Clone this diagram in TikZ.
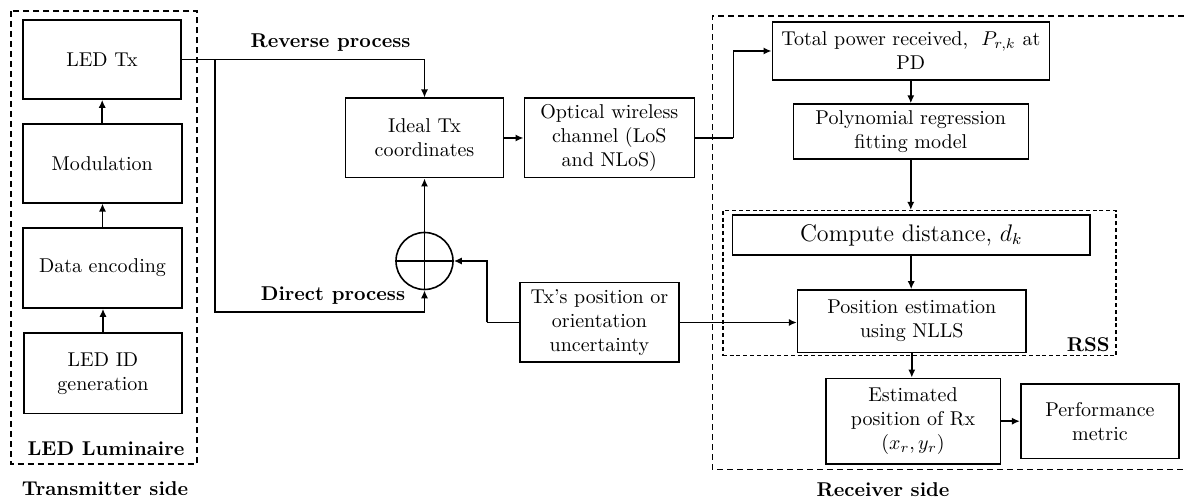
\documentclass[tikz,border=0pt]{standalone}
\usetikzlibrary{arrows.meta,calc}
\begin{document}
\begin{tikzpicture}[x=0.5pt,y=-0.5pt,
  blk/.style={draw, line width=0.8pt, align=center, inner sep=1pt, font=\fontsize{10}{12}\selectfont},
  arr/.style={line width=0.8pt, -{Latex[length=4pt,width=3.6pt]}},
  ln/.style={line width=0.8pt},
  dshbig/.style={line width=0.8pt, dash pattern=on 3pt off 2pt},
  dshsmall/.style={line width=0.8pt, dash pattern=on 2pt off 1.4pt},
  lbl/.style={font=\bfseries\fontsize{10}{12}\selectfont, inner sep=0pt},
  sumnode/.style={draw, circle, line width=0.8pt, minimum size=28.5pt, inner sep=0pt}
]
\useasboundingbox (0,0) rectangle (1184,502);

% Transmitter side
\draw[dshbig] (10.7,11) rectangle (197,464);
\node[blk, minimum width=79pt, minimum height=39.5pt] (ledtx) at (102,59.5) {LED Tx};
\node[blk, minimum width=79.5pt, minimum height=39.5pt] (mod) at (102.2,163.3) {Modulation};
\node[blk, minimum width=79.5pt, minimum height=40pt] (enc) at (102.5,268) {Data encoding};
\node[blk, minimum width=79pt, minimum height=40pt] (ledid) at (103,373.3) {LED ID\\generation};
\node[lbl] (lum) at (106,449) {LED Luminaire};
\node[lbl] (txside) at (105,489) {Transmitter side};

\draw[arr] (ledid.north) -- (ledid.north |- enc.south);
\draw[arr] (enc.north) -- (enc.north |- mod.south);
\draw[arr] (mod.north) -- (mod.north |- ledtx.south);

% Middle
\node[blk, minimum width=79pt, minimum height=39.7pt] (ideal) at (424.5,138) {Ideal Tx\\coordinates};
\node[blk, minimum width=85pt, minimum height=39.7pt] (owc) at (609.3,138) {Optical wireless\\channel (LoS\\and NLoS)};
\node[sumnode] (sum) at (424.5,261) {};
\draw[ln] (sum.north) -- (sum.south);
\draw[ln] (sum.west) -- (sum.east);
\node[blk, minimum width=79.5pt, minimum height=39.8pt] (txu) at (599.5,322.5) {Tx's position or\\orientation\\uncertainty};
\node[lbl] (rev) at (330.5,43) {Reverse process};
\node[lbl] (dir) at (333,296) {Direct process};

\coordinate (br) at (215,59.5);
\coordinate (dp) at (215,312.3);
\coordinate (bend1) at (733.3,138);
\coordinate (bend2) at (486.7,322.5);

\draw[arr] (ledtx.east) -| (ideal.north);
\draw[arr] (br) -- (dp) -| (sum.south);
\draw[arr] (sum.north) -- (ideal.south);
\draw[arr] (ideal.east) -- (owc.west);
\draw[ln] (txu.west) -- (bend2);
\draw[arr] (bend2) |- (sum.east);

% Receiver side
\draw[dshbig] (1184,16) -- (712.3,16) -- (712.3,469.3) -- (1184,469.3);
\node[lbl] (rxside) at (883,490) {Receiver side};
\node[blk, minimum width=138.5pt, minimum height=29pt] (tpow) at (910.8,51) {Total power received,\ \ $P_{r,k}$ at\\PD};
\node[blk, minimum width=117.5pt, minimum height=27.6pt] (poly) at (910.8,131.7) {Polynomial regression\\fitting model};
\node[draw, dshsmall, minimum width=196.6pt, minimum height=72.5pt, inner sep=0pt] (rss) at (919.35,283.2) {};
\node[lbl, anchor=south east] (rsslbl) at (1110,352) {RSS};
\node[blk, minimum width=178.8pt, minimum height=20pt, font=\fontsize{12}{14}\selectfont] (comp) at (911.2,235) {Compute distance, $d_k$};
\node[blk, minimum width=114.2pt, minimum height=31.2pt] (pos) at (911.8,321.2) {Position estimation\\using NLLS};
\node[blk, minimum width=87.3pt, minimum height=42.8pt] (est) at (913,421.2) {Estimated\\position of Rx\\$(x_r, y_r)$};
\node[blk, minimum width=79.2pt, minimum height=37pt] (perf) at (1099.9,421.3) {Performance\\metric};

\draw[ln] (owc.east) -- (bend1);
\draw[arr] (bend1) |- (tpow.west);
\draw[arr] (tpow.south) -- (tpow.south |- poly.north);
\draw[arr] (poly.south) -- (poly.south |- rss.north);
\draw[arr] (comp.south) -- (comp.south |- pos.north);
\draw[arr] (txu.east) -- (txu.east -| pos.west);
\draw[arr] (pos.south) -- (pos.south |- est.north);
\draw[arr] (est.east) -- (est.east -| perf.west);
\end{tikzpicture}
\end{document}
